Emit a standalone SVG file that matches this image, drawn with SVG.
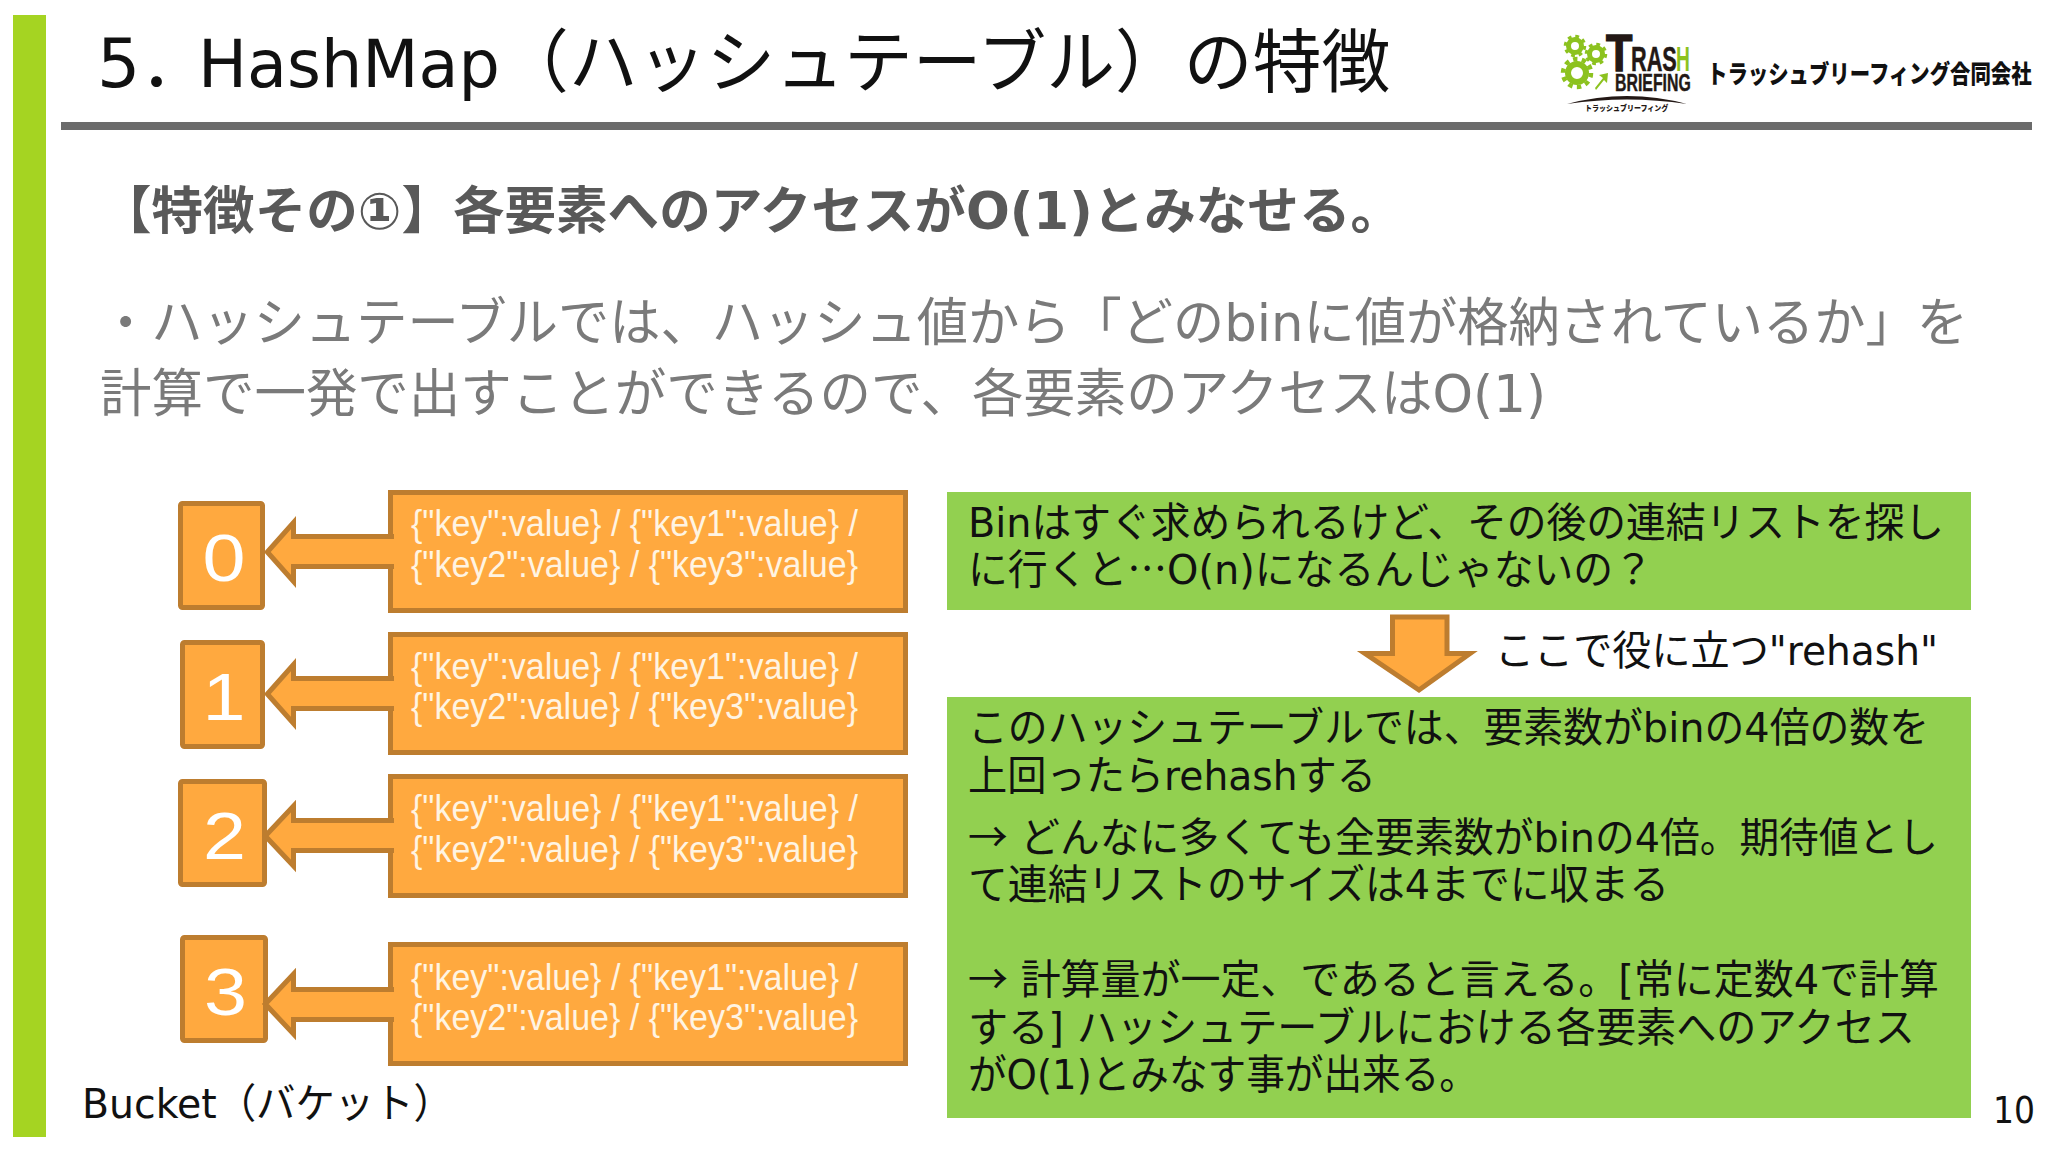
<svg xmlns="http://www.w3.org/2000/svg" width="2048" height="1152" viewBox="0 0 2048 1152">
<style>
text{font-family:"DejaVu Sans","Noto Sans CJK JP",sans-serif}
.cjk{font-family:"Noto Sans CJK JP","Noto Sans",sans-serif}
.lat{font-family:"Liberation Sans",Arial,sans-serif;font-weight:bold}
.g{font-size:41px;fill:#111}
.k{font-family:"Liberation Sans",Arial,sans-serif;font-size:36px;fill:#fff4e2}
.box{fill:#ffa93f;stroke:#bd7d2f;stroke-width:5}
.arr{fill:#ffa93f;stroke:#bd7d2f;stroke-width:5}
.num{font-family:"Liberation Sans",Arial,sans-serif;font-size:66px;fill:#fff;text-anchor:middle}
.green{fill:#92d050}
.ring{fill:none;stroke:#8cc21f}
</style>
<rect width="2048" height="1152" fill="#fff"/>
<g id="frame">
<rect x="13" y="15" width="33" height="1122" fill="#a5d422"/>
<rect x="61" y="122" width="1971" height="8" fill="#6b6b6b"/>
</g>
<g id="title"><text x="97" y="87" font-size="68" fill="#111">5．<tspan x="198" font-size="65.2">HashMap</tspan><tspan x="500" font-size="68.8">（ハッシュテーブル）の特徴</tspan></text></g>
<g id="logo">
<circle class="ring" cx="1575" cy="46" r="6.5" stroke-width="5"/><circle class="ring" cx="1575" cy="46" r="9.5" stroke-width="3.5" stroke-dasharray="3.7 3.76"/>
<circle class="ring" cx="1596" cy="54" r="6.5" stroke-width="5"/><circle class="ring" cx="1596" cy="54" r="9.5" stroke-width="3.5" stroke-dasharray="3.7 3.76"/>
<circle class="ring" cx="1577" cy="73" r="9" stroke-width="6"/><circle class="ring" cx="1577" cy="73" r="14" stroke-width="4.5" stroke-dasharray="4.4 4.4"/>
<path d="M1595 88l8-10-4-3 9-2-1 10-3-3-8 10z" fill="#8cc21f"/>
<text transform="translate(1606 71) scale(.83 1)" font-size="52" class="lat" fill="#231815" stroke="#231815" stroke-width="1.5">T</text>
<text transform="translate(1631 71) scale(.62 1)" font-size="35" class="lat" fill="#231815" stroke="#231815" stroke-width=".5">RAS</text>
<text transform="translate(1676 71) scale(.55 1)" font-size="35" class="lat" fill="#8cc21f">H</text>
<text transform="translate(1615 91) scale(.69 1)" font-size="23" class="lat" fill="#231815" stroke="#231815" stroke-width=".4">BRIEFING</text>
<path d="M1567 104Q1627 88 1687 104Q1627 95 1567 104z" fill="#231815"/>
<text transform="translate(1585 111) scale(1 1.1)" font-size="7" font-weight="900" fill="#231815" class="cjk">トラッシュブリーフィング</text>
<text transform="translate(1707 83) scale(1 1.25)" font-size="20.4" font-weight="900" fill="#111" class="cjk">トラッシュブリーフィング合同会社</text>
</g>
<g id="intro" fill="#7a7a7a">
<text x="100" y="229" font-size="51" font-weight="bold" fill="#595959" textLength="1302" lengthAdjust="spacingAndGlyphs">【特徴その①】各要素へのアクセスがO(1)とみなせる。</text>
<text x="100" y="341" font-size="52" textLength="1868" lengthAdjust="spacingAndGlyphs">・ハッシュテーブルでは、ハッシュ値から「どのbinに値が格納されているか」を</text>
<text x="100" y="412" font-size="52" textLength="1446" lengthAdjust="spacingAndGlyphs">計算で一発で出すことができるので、各要素のアクセスはO(1)</text>
</g>
<g id="bucket-0"><rect class="box" x="180.500" y="503.500" width="82" height="104" rx="2"/><text class="num" x="224" y="581" textLength="43" lengthAdjust="spacingAndGlyphs">0</text></g>
<g id="bucket-1"><rect class="box" x="182.500" y="642.500" width="80" height="104" rx="2"/><text class="num" x="224" y="720" textLength="43" lengthAdjust="spacingAndGlyphs">1</text></g>
<g id="bucket-2"><rect class="box" x="180.500" y="781.500" width="84" height="103" rx="2"/><text class="num" x="224.500" y="859" textLength="43" lengthAdjust="spacingAndGlyphs">2</text></g>
<g id="bucket-3"><rect class="box" x="182.500" y="937.500" width="83" height="103" rx="2"/><text class="num" x="225.500" y="1015" textLength="43" lengthAdjust="spacingAndGlyphs">3</text></g>
<g id="entries-0"><rect class="box" x="390.500" y="492.500" width="515" height="118"/><text class="k" x="411" y="536" textLength="447" lengthAdjust="spacingAndGlyphs">{"key":value} / {"key1":value} /</text><text class="k" x="411" y="577" textLength="447" lengthAdjust="spacingAndGlyphs">{"key2":value} / {"key3":value}</text></g>
<g id="entries-1"><rect class="box" x="390.500" y="634.500" width="515" height="118"/><text class="k" x="411" y="679" textLength="447" lengthAdjust="spacingAndGlyphs">{"key":value} / {"key1":value} /</text><text class="k" x="411" y="719" textLength="447" lengthAdjust="spacingAndGlyphs">{"key2":value} / {"key3":value}</text></g>
<g id="entries-2"><rect class="box" x="390.500" y="776.500" width="515" height="119"/><text class="k" x="411" y="821" textLength="447" lengthAdjust="spacingAndGlyphs">{"key":value} / {"key1":value} /</text><text class="k" x="411" y="862" textLength="447" lengthAdjust="spacingAndGlyphs">{"key2":value} / {"key3":value}</text></g>
<g id="entries-3"><rect class="box" x="390.500" y="944.500" width="515" height="119"/><text class="k" x="411" y="990" textLength="447" lengthAdjust="spacingAndGlyphs">{"key":value} / {"key1":value} /</text><text class="k" x="411" y="1030" textLength="447" lengthAdjust="spacingAndGlyphs">{"key2":value} / {"key3":value}</text></g>
<g id="connectors">
<path class="arr" d="M394 536.500H293.500V522.500L267.300 552L293.500 581.500V566.500H394"/>
<path class="arr" d="M394 678.500H293.500V664.500L267.300 694L293.500 723.500V708.500H394"/>
<path class="arr" d="M394 820.500H293.500V806L265.300 836L293.500 866V850.500H394"/>
<path class="arr" d="M394 989.500H293.500V974L265.300 1004L293.500 1034V1019.500H394"/>
<path class="arr" d="M1392.500 617H1447V653.500H1470L1419 690L1365 653.500H1392.500z"/>
</g>
<g id="note-question"><rect class="green" x="947" y="492" width="1024" height="118"/>
<text class="g" x="968" y="537" textLength="976" lengthAdjust="spacingAndGlyphs">Binはすぐ求められるけど、その後の連結リストを探し</text>
<text class="g" x="968" y="584" textLength="685" lengthAdjust="spacingAndGlyphs">に行くと<tspan class="cjk">…</tspan>O(n)になるんじゃないの？</text></g>
<g id="note-rehash-label"><text class="g" x="1495" y="665" textLength="443" lengthAdjust="spacingAndGlyphs">ここで役に立つ"rehash"</text></g>
<g id="note-answer"><rect class="green" x="947" y="697" width="1024" height="421"/>
<text class="g" x="968" y="742" textLength="961" lengthAdjust="spacingAndGlyphs">このハッシュテーブルでは、要素数がbinの4倍の数を</text>
<text class="g" x="968" y="790" textLength="408" lengthAdjust="spacingAndGlyphs">上回ったらrehashする</text>
<text class="g" x="968" y="852" textLength="970" lengthAdjust="spacingAndGlyphs"><tspan class="cjk">→</tspan> どんなに多くても全要素数がbinの4倍。期待値とし</text>
<text class="g" x="968" y="899" textLength="701" lengthAdjust="spacingAndGlyphs">て連結リストのサイズは4までに収まる</text>
<text class="g" x="968" y="994" textLength="971" lengthAdjust="spacingAndGlyphs"><tspan class="cjk">→</tspan> 計算量が一定、であると言える。[常に定数4で計算</text>
<text class="g" x="968" y="1042" textLength="947" lengthAdjust="spacingAndGlyphs">する] ハッシュテーブルにおける各要素へのアクセス</text>
<text class="g" x="968" y="1089" textLength="510" lengthAdjust="spacingAndGlyphs">がO(1)とみなす事が出来る。</text></g>
<g id="bucket-label"><text class="g" x="82" y="1118" textLength="371" lengthAdjust="spacingAndGlyphs">Bucket（バケット）</text></g>
<g id="page-number"><text x="1993" y="1123" font-size="38" fill="#111" textLength="42" lengthAdjust="spacingAndGlyphs">10</text></g>
</svg>
